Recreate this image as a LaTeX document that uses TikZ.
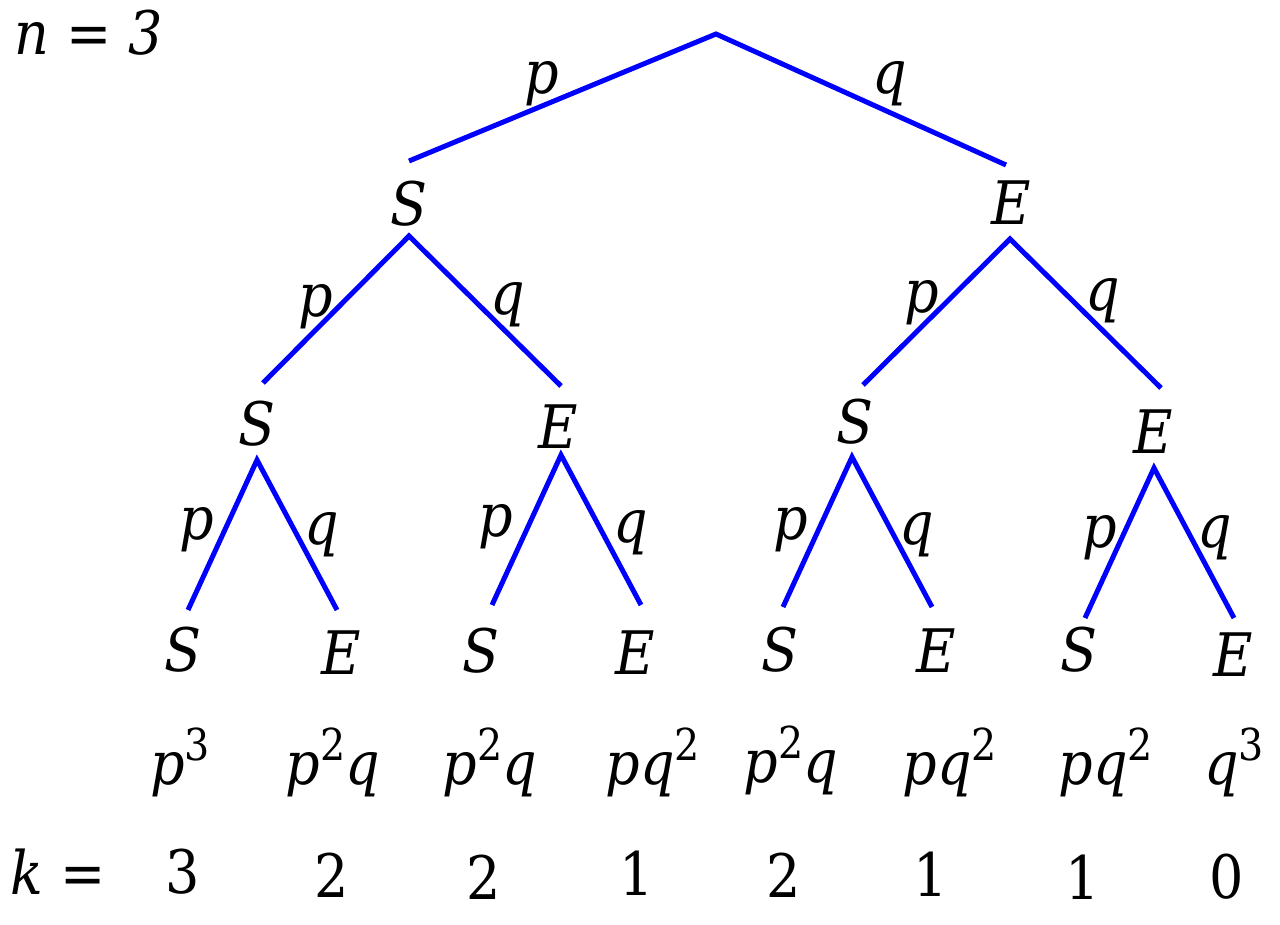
\documentclass[tikz,border=0pt]{standalone}
\usepackage{fontspec}
\setmainfont{DejaVu Serif Condensed}
\newcommand{\sups}[1]{\raisebox{0.40em}{\fontsize{44}{44}\selectfont\upshape #1}}
\begin{document}
\begin{tikzpicture}[x=1pt,y=-1pt,
  lbl/.style={inner sep=0pt,font=\fontsize{60}{72}\selectfont\itshape},
  num/.style={inner sep=0pt,font=\fontsize{60}{72}\selectfont},
  edge/.style={draw=blue,line width=5pt}]
\useasboundingbox (0,0) rectangle (1280,925);
% labels
\node[lbl] (n) at (89,33) {n {\upshape=} 3};
\node[lbl] (s1) at (409,204) {S};
\node[lbl] (e1) at (1011,203) {E};
\node[lbl] (s2a) at (257,424) {S};
\node[lbl] (e2a) at (558,427) {E};
\node[lbl] (s2b) at (855,422) {S};
\node[lbl] (e2b) at (1153,432) {E};
\node[lbl] (l1) at (183,650) {S};
\node[lbl] (l2) at (341,653) {E};
\node[lbl] (l3) at (481,651) {S};
\node[lbl] (l4) at (635,653) {E};
\node[lbl] (l5) at (780,650) {S};
\node[lbl] (l6) at (936,651) {E};
\node[lbl] (l7) at (1079,650) {S};
\node[lbl] (l8) at (1233,655) {E};
% edge probability labels
\node[lbl] (p0) at (542,84) {p};
\node[lbl] (q0) at (890,84) {q};
\node[lbl] (p1) at (316,307) {p};
\node[lbl] (q1) at (508,305) {q};
\node[lbl] (p2) at (922,303) {p};
\node[lbl] (q2) at (1103,301) {q};
\node[lbl] (p3) at (197,530) {p};
\node[lbl] (q3) at (322,535) {q};
\node[lbl] (p4) at (496,527) {p};
\node[lbl] (q4) at (631,533) {q};
\node[lbl] (p5) at (791,530) {p};
\node[lbl] (q5) at (917,535) {q};
\node[lbl] (p6) at (1100,538) {p};
\node[lbl] (q6) at (1215,538) {q};
% products
\node[lbl] (r1) at (180,762) {p\sups{3}};
\node[lbl] (r2) at (333,762) {p\sups{2}q};
\node[lbl] (r3) at (490,762) {p\sups{2}q};
\node[lbl] (r4) at (653,762) {pq\sups{2}};
\node[lbl] (r5) at (791,760) {p\sups{2}q};
\node[lbl] (r6) at (950,762) {pq\sups{2}};
\node[lbl] (r7) at (1106,762) {pq\sups{2}};
\node[lbl] (r8) at (1234,762) {q\sups{3}};
% k row
\node[lbl] (k) at (58,872) {k {\upshape=}};
\node[num] (k1) at (183,872) {3};
\node[num] (k2) at (332,875) {2};
\node[num] (k3) at (484,877) {2};
\node[num] (k4) at (637,873) {1};
\node[num] (k5) at (784,875) {2};
\node[num] (k6) at (931,874) {1};
\node[num] (k7) at (1083,877) {1};
\node[num] (k8) at (1227,877) {0};
% branch points
\coordinate (root) at (716,34);
\coordinate (s1t) at (409,161);
\coordinate (e1t) at (1006,165);
\coordinate (s1b) at (409,236);
\coordinate (e1b) at (1010,239);
\coordinate (s2at) at (263,383);
\coordinate (e2at) at (561,386);
\coordinate (s2bt) at (863,385);
\coordinate (e2bt) at (1161,388);
\coordinate (s2ab) at (257,460);
\coordinate (e2ab) at (561,455);
\coordinate (s2bb) at (852,457);
\coordinate (e2bb) at (1154,468);
\coordinate (l1t) at (188,610);
\coordinate (l2t) at (337,610);
\coordinate (l3t) at (492,605);
\coordinate (l4t) at (641,605);
\coordinate (l5t) at (783,607);
\coordinate (l6t) at (932,607);
\coordinate (l7t) at (1085,618);
\coordinate (l8t) at (1234,618);
\draw[edge] (s1t) -- (root) -- (e1t);
\draw[edge] (s2at) -- (s1b) -- (e2at);
\draw[edge] (s2bt) -- (e1b) -- (e2bt);
\draw[edge] (l1t) -- (s2ab) -- (l2t);
\draw[edge] (l3t) -- (e2ab) -- (l4t);
\draw[edge] (l5t) -- (s2bb) -- (l6t);
\draw[edge] (l7t) -- (e2bb) -- (l8t);
\end{tikzpicture}
\end{document}
